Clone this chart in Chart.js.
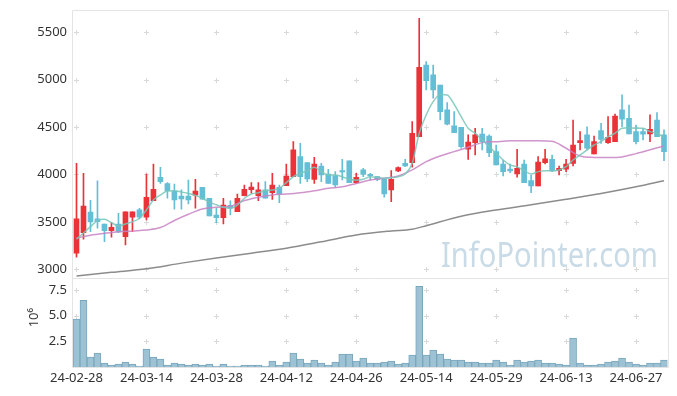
<!DOCTYPE html>
<html>
<head>
<meta charset="utf-8">
<script src="https://cdn.jsdelivr.net/npm/chart.js@4"></script>
<style>
  html, body { margin: 0; padding: 0; background: #fff; }
  #wrap { position: relative; width: 677px; height: 396px; }
</style>
</head>
<body>
<div id="wrap"><canvas id="stockChart" width="677" height="396"></canvas></div>
<script>
// ── Données ────────────────────────────────────────────────────
const dates = [
  '24-02-28','24-02-29','24-03-04','24-03-05','24-03-06','24-03-07','24-03-08','24-03-11','24-03-12','24-03-13',
  '24-03-14','24-03-15','24-03-18','24-03-19','24-03-20','24-03-21','24-03-22','24-03-25','24-03-26','24-03-27',
  '24-03-28','24-03-29','24-04-01','24-04-02','24-04-03','24-04-04','24-04-05','24-04-08','24-04-09','24-04-11',
  '24-04-12','24-04-15','24-04-16','24-04-17','24-04-18','24-04-19','24-04-22','24-04-23','24-04-24','24-04-25',
  '24-04-26','24-04-29','24-04-30','24-05-02','24-05-03','24-05-07','24-05-08','24-05-09','24-05-10','24-05-13',
  '24-05-14','24-05-16','24-05-17','24-05-20','24-05-21','24-05-22','24-05-23','24-05-24','24-05-27','24-05-28',
  '24-05-29','24-05-30','24-05-31','24-06-03','24-06-04','24-06-05','24-06-07','24-06-10','24-06-11','24-06-12',
  '24-06-13','24-06-14','24-06-17','24-06-18','24-06-19','24-06-20','24-06-21','24-06-24','24-06-25','24-06-26',
  '24-06-27','24-06-28','24-07-01','24-07-02','24-07-03'
];

const opens = [
  3169,3386,3604,3531,3478,3407,3478,3344,3549,3626,
  3549,3724,3971,3903,3826,3773,3773,3781,3865,3749,
  3573,3545,3675,3608,3776,3840,3776,3837,3808,3865,
  3882,3977,4189,4125,3949,4090,4005,3988,4040,4143,
  3914,4048,4002,3977,3949,3837,4037,4118,4125,4399,
  5155,5050,4944,4681,4512,4498,4266,4336,4427,4406,
  4241,4111,4058,4005,4111,3935,3879,4125,4160,4040,
  4055,4118,4336,4417,4216,4462,4336,4346,4681,4593,
  4452,4452,4427,4575,4417
];
const highs = [
  4118,4013,3728,3932,3478,3496,3591,3605,3605,3644,
  4005,4111,4076,3914,3900,3837,3942,3949,3865,3749,
  3644,3749,3721,3794,3889,3914,3914,3924,4013,3889,
  4111,4346,4329,4125,4182,4118,4055,4030,4160,4143,
  4013,4066,4013,3977,3949,4040,4082,4160,4557,5648,
  5190,5155,4944,4758,4663,4498,4417,4488,4488,4417,
  4311,4153,4111,4266,4153,3995,4188,4266,4206,4090,
  4160,4575,4452,4504,4406,4540,4610,4638,4839,4733,
  4522,4488,4628,4652,4470
];
const lows = [
  3127,3317,3397,3433,3291,3338,3386,3256,3397,3531,
  3520,3724,3907,3749,3633,3633,3689,3644,3739,3562,
  3492,3478,3573,3608,3773,3802,3724,3749,3738,3703,
  3882,3977,3907,3924,3907,3924,3907,3865,3942,3914,
  3907,3977,3942,3935,3760,3713,4030,4082,4076,4399,
  4892,4804,4575,4522,4441,4277,4160,4206,4259,4188,
  4100,3984,4019,3971,3914,3808,3879,4111,4030,3995,
  4030,4090,4259,4259,4216,4329,4329,4346,4504,4427,
  4322,4364,4346,4399,4146
];
const closes = [
  3531,3668,3500,3502,3407,3443,3393,3605,3605,3549,
  3760,3844,3924,3829,3731,3742,3731,3826,3739,3562,
  3545,3678,3647,3749,3844,3868,3837,3749,3889,3794,
  3984,4259,3977,3953,4111,3995,3907,3889,4027,3914,
  3970,4002,3988,3949,3794,3949,4072,4090,4435,5131,
  4990,4892,4663,4530,4441,4293,4343,4417,4346,4230,
  4100,4030,4037,4066,3914,3879,4132,4164,4040,4066,
  4111,4311,4357,4277,4346,4371,4393,4617,4583,4427,
  4346,4424,4477,4399,4241
];

// volume (x10^6)
const volumes = [
  4.66,6.50,0.97,1.36,0.39,0.19,0.29,0.49,0.29,0.10,
  1.75,0.97,0.78,0.19,0.39,0.29,0.19,0.29,0.19,0.29,
  0.10,0.29,0.10,0.10,0.19,0.19,0.19,0.10,0.58,0.19,
  0.49,1.36,0.78,0.39,0.68,0.39,0.19,0.49,1.26,1.26,
  0.58,0.87,0.39,0.39,0.49,0.58,0.29,0.39,1.17,7.86,
  1.17,1.65,1.26,0.78,0.68,0.68,0.49,0.49,0.39,0.39,
  0.68,0.49,0.19,0.68,0.49,0.58,0.68,0.39,0.39,0.29,
  0.19,2.82,0.39,0.19,0.19,0.29,0.49,0.58,0.87,0.49,
  0.29,0.19,0.39,0.39,0.68
];

// moyennes mobiles
const ma5 = [
  3317,3383,3450,3513,3527,3492,3457,3478,3502,3538,
  3626,3731,3784,3825,3829,3815,3800,3780,3749,3708,
  3680,3654,3644,3678,3749,3794,3808,3829,3837,3854,
  3914,3977,4013,4040,4076,4030,3995,3995,3977,3949,
  3940,3949,3977,3970,3960,3966,3977,4005,4118,4435,
  4628,4768,4845,4839,4740,4610,4488,4435,4364,4293,
  4224,4153,4100,4080,4040,4005,4030,4040,4037,4048,
  4082,4153,4206,4259,4311,4346,4399,4435,4488,4494,
  4488,4488,4452,4435,4393
];
// [index, valeur]
const ma20Pts = [
  [0,3328],[2,3360],[4,3380],[6,3395],[8,3405],[10,3415],[12,3440],[14,3515],[16,3580],[18,3635],
  [20,3655],[22,3665],[24,3725],[26,3760],[28,3784],[30,3794],[32,3808],[34,3829],[36,3854],[38,3870],
  [40,3905],[42,3942],[44,3960],[46,3984],[48,4048],[50,4135],[52,4195],[54,4241],[56,4287],[58,4336],
  [60,4346],[62,4355],[64,4357],[66,4357],[68,4350],[70,4277],[72,4195],[74,4180],[76,4178],[78,4185],
  [80,4220],[82,4260],[84,4301]
];
const ma60Pts = [
  [0,2929],[5,2968],[10,3005],[15,3065],[20,3120],[25,3170],[30,3222],[35,3290],[40,3362],[45,3404],
  [48,3422],[50,3460],[55,3560],[60,3626],[65,3680],[70,3738],[75,3800],[80,3871],[84,3935]
];

const priceTicks = [3000, 3500, 4000, 4500, 5000, 5500];
const volTicks = [0, 2.5, 5, 7.5];

const UP = '#ea3338';
const DOWN = '#64bfd6';

// ── Plugin fond : croix de grille, cadres, filigrane ───────────
const backdrop = {
  id: 'backdrop',
  beforeDatasetsDraw(chart) {
    const { ctx, chartArea: a, scales } = chart;
    const x = scales.x, y = scales.y, yv = scales.yv;
    ctx.save();

    // filigrane
    ctx.font = '34px "Noto Sans"';
    ctx.fillStyle = '#c9dbe7';
    ctx.textBaseline = 'alphabetic';
    const txt = 'InfoPointer.com';
    const w = ctx.measureText(txt).width;
    ctx.translate(441, 267);
    ctx.scale(217 / w, 1);
    ctx.fillText(txt, 0, 0);
    ctx.setTransform(1, 0, 0, 1, 0, 0);

    // croix
    ctx.strokeStyle = '#d9d9d9';
    ctx.lineWidth = 1;
    const xs = [];
    dates.forEach((d, i) => { if (i % 10 === 0) xs.push(Math.round(x.getPixelForValue(i)) + 0.5); });
    const ys = [];
    priceTicks.forEach(v => ys.push(Math.round(y.getPixelForValue(v)) + 0.5));
    volTicks.forEach(v => { if (v > 0) ys.push(Math.round(yv.getPixelForValue(v)) + 0.5); });
    ctx.beginPath();
    xs.forEach(px => ys.forEach(py => {
      ctx.moveTo(px - 2.5, py); ctx.lineTo(px + 2.5, py);
      ctx.moveTo(px, py - 2.5); ctx.lineTo(px, py + 2.5);
    }));
    ctx.stroke();

    // cadres
    ctx.strokeStyle = '#e4e4e4';
    const l = Math.round(a.left) - 0.5, r = Math.round(a.right) + 0.5;
    const t = Math.round(a.top) + 0.5, b = Math.round(a.bottom) + 0.5;
    const sep = Math.round(y.bottom) + 0.5;
    ctx.beginPath();
    ctx.rect(l, t, r - l, b - t);
    ctx.moveTo(l, sep); ctx.lineTo(r, sep);
    ctx.stroke();
    ctx.restore();
  },
  afterDraw(chart) {
    const { ctx, scales } = chart;
    const yv = scales.yv;
    ctx.save();
    ctx.font = '13px "Noto Sans"';
    ctx.fillStyle = '#333';
    ctx.textAlign = 'center';
    ctx.textBaseline = 'alphabetic';
    ctx.translate(38, (yv.top + yv.bottom) / 2 - 5);
    ctx.rotate(-Math.PI / 2);
    ctx.fillText('10\u2076', 0, 0);
    ctx.restore();
  }
};

// largeur fixe de l'axe, sans marge de libellé
function fixY(s) {
  s.width = 73;
  s.paddingTop = 0;
  s.paddingBottom = 0;
}

// ── Graphique ──────────────────────────────────────────────────
const colors = opens.map((o, i) => closes[i] >= o ? UP : DOWN);
const tickFont = { family: '"Noto Sans"', size: 13 };

new Chart(document.getElementById('stockChart'), {
  type: 'bar',
  data: {
    labels: dates,
    datasets: [
      {
        label: 'MA5', type: 'line', yAxisID: 'y', order: 1,
        data: ma5,
        borderColor: 'rgba(120,198,185,0.85)', borderWidth: 1.5,
        pointRadius: 0, cubicInterpolationMode: 'monotone',
      },
      {
        label: 'MA20', type: 'line', yAxisID: 'y', order: 1,
        data: ma20Pts.map(([i, v]) => ({ x: dates[i], y: v })),
        borderColor: 'rgba(200,130,195,0.85)', borderWidth: 1.5,
        pointRadius: 0, cubicInterpolationMode: 'monotone',
      },
      {
        label: 'MA60', type: 'line', yAxisID: 'y', order: 1,
        data: ma60Pts.map(([i, v]) => ({ x: dates[i], y: v })),
        borderColor: '#8c8c8c', borderWidth: 1.5,
        pointRadius: 0, cubicInterpolationMode: 'monotone',
      },
      {
        label: 'wick', yAxisID: 'y', order: 3, grouped: false,
        data: lows.map((l, i) => [l, highs[i]]),
        backgroundColor: colors, barThickness: 1, borderWidth: 0,
      },
      {
        label: 'body', yAxisID: 'y', order: 2, grouped: false,
        data: opens.map((o, i) => [o, closes[i]]),
        backgroundColor: colors, barThickness: 5, borderWidth: 0, minBarLength: 1,
      },
      {
        label: 'volume', yAxisID: 'yv', order: 4, grouped: false,
        data: volumes,
        backgroundColor: '#9dc2d3', borderColor: '#7aa6bc', borderWidth: 1,
        barPercentage: 1, categoryPercentage: 1, borderSkipped: 'bottom',
      },
    ],
  },
  options: {
    responsive: false,
    animation: false,
    layout: { padding: { top: 10, right: 9.5, left: 0, bottom: 0 } },
    plugins: { legend: { display: false }, tooltip: { enabled: false } },
    scales: {
      x: {
        type: 'category', offset: true,
        grid: { display: false, drawTicks: false }, border: { display: false },
        ticks: {
          autoSkip: false, maxRotation: 0, minRotation: 0, padding: 3,
          color: '#333', font: tickFont,
          callback: (v, i) => i % 10 === 0 ? dates[i] : '',
        },
        afterFit(s) { s.height = 29; },
      },
      yv: {
        stack: 'main', stackWeight: 88.7, position: 'left',
        min: 0, max: 8.64,
        grid: { display: false, drawTicks: false }, border: { display: false },
        afterBuildTicks(s) { s.ticks = volTicks.map(v => ({ value: v })); },
        ticks: {
          autoSkip: false, padding: 6, color: '#333', font: tickFont,
          callback: v => v === 0 ? '' : v.toFixed(1),
        },
        afterFit: fixY,
      },
      y: {
        stack: 'main', stackWeight: 268.3, position: 'left',
        min: 2905, max: 5735,
        grid: { display: false, drawTicks: false }, border: { display: false },
        afterBuildTicks(s) { s.ticks = priceTicks.map(v => ({ value: v })); },
        ticks: {
          autoSkip: false, padding: 6, color: '#333', font: tickFont,
          callback: v => String(v),
        },
        afterFit: fixY,
      },
    },
  },
  plugins: [backdrop],
});
</script>
</body>
</html>
